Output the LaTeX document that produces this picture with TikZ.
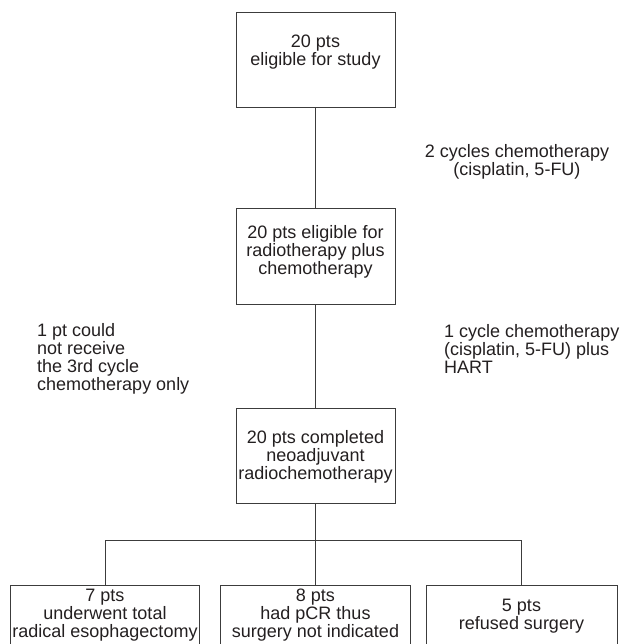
\documentclass[tikz,border=0pt]{standalone}
\usepackage{fontspec}
\setmainfont{Liberation Sans}
\definecolor{linec}{HTML}{3C3C3C}
\definecolor{textc}{HTML}{231F20}
\begin{document}
\begin{tikzpicture}[x=1pt,y=-1pt,
  box/.style={draw=linec, line width=1pt, inner sep=0pt, minimum width=159pt, minimum height=95pt},
  bbox/.style={draw=linec, line width=1pt, inner sep=0pt, minimum height=70pt},
  txt/.style={inner sep=0pt, align=center, font=\fontsize{18}{18}\selectfont, text=textc, anchor=north},
  ltxt/.style={inner sep=0pt, align=left, font=\fontsize{18}{18}\selectfont, text=textc, anchor=north west},
  conn/.style={draw=linec, line width=1pt}]
\clip (0,0) rectangle (628,644);
% boxes
\node[box] (b1) at (315.5,60.5) {};
\node[box] (b2) at (315.5,256.5) {};
\node[box] (b3) at (315.5,455.5) {};
\node[bbox, minimum width=189pt] (c1) at (105,620) {};
\node[bbox, minimum width=190pt] (c2) at (315.5,620) {};
\node[bbox, minimum width=191pt] (c3) at (521.5,620) {};
% box texts
\node[txt] (t1) at (315.5,35) {20 pts\\eligible for study};
\node[txt] (t2) at (315.5,225) {20 pts eligible for\\radiotherapy plus\\chemotherapy};
\node[txt] (t3) at (315.5,430) {20 pts completed\\neoadjuvant\\radiochemotherapy};
\node[txt] (u1) at (105,589) {7 pts\\underwent total\\radical esophagectomy};
\node[txt] (u2) at (315.5,589) {8 pts\\had pCR thus\\surgery not indicated};
\node[txt] (u3) at (521.5,599) {5 pts\\refused surgery};
% side labels
\node[txt] (s1) at (517,144) {2 cycles chemotherapy\\(cisplatin, 5-FU)};
\node[ltxt] (s2) at (37,323) {1 pt could\\not receive\\the 3rd cycle\\chemotherapy only};
\node[ltxt] (s3) at (444,324) {1 cycle chemotherapy\\(cisplatin, 5-FU) plus\\HART};
% connectors
\coordinate (j) at (315.5,540);
\draw[conn] (b1.south) -- (b2.north);
\draw[conn] (b2.south) -- (b3.north);
\draw[conn] (b3.south) -- (j);
\draw[conn] (c1.north |- j) -- (c3.north |- j);
\draw[conn] (c1.north |- j) -- (c1.north);
\draw[conn] (j) -- (c2.north);
\draw[conn] (c3.north |- j) -- (c3.north);
\end{tikzpicture}
\end{document}
